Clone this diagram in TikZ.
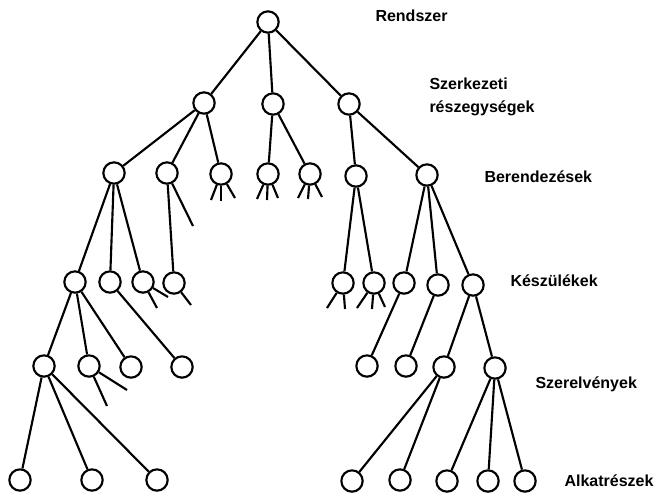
\documentclass[tikz,border=0pt]{standalone}
\usepackage{fontspec}
\setmainfont{Liberation Sans}
\begin{document}
\begin{tikzpicture}[x=0.75pt,y=-0.75pt,line width=1.6pt,
    elem/.style={circle,draw,line width=1.6pt,minimum size=16pt,inner sep=0pt},
    szint/.style={anchor=west,font=\bfseries\fontsize{12}{17.5}\selectfont,align=left}]
        \useasboundingbox (0,0) rectangle (667,496);
        % rendszer es szerkezeti reszegysegek
        \node[elem] (r) at (268,22) {};
        \node[elem] (s1) at (204,103) {};
        \node[elem] (s2) at (273,104) {};
        \node[elem] (s3) at (349,104) {};
        \draw (r) -- (s1); \draw (r) -- (s2); \draw (r) -- (s3);
        % berendezesek
        \node[elem] (b1) at (114,173) {};
        \node[elem] (b2) at (167,173) {};
        \node[elem] (b3) at (221,174) {};
        \node[elem] (b4) at (268,174) {};
        \node[elem] (b5) at (310,174) {};
        \node[elem] (b6) at (356,176) {};
        \node[elem] (b7) at (427,175) {};
        \draw (s1) -- (b1); \draw (s1) -- (b2); \draw (s1) -- (b3);
        \draw (s2) -- (b4); \draw (s2) -- (b5);
        \draw (s3) -- (b6); \draw (s3) -- (b7);
        \draw (b2) -- +(26,53);
        \draw (b3) -- +(-10,26); \draw (b3) -- +(0,27); \draw (b3) -- +(14,24);
        \draw (b4) -- +(-11,25); \draw (b4) -- +(-1,26); \draw (b4) -- +(10,24);
        \draw (b5) -- +(-12,24); \draw (b5) -- +(-2,25); \draw (b5) -- +(12,23);
        % keszulekek
        \node[elem] (k1) at (75,282) {};
        \node[elem] (k2) at (110,282) {};
        \node[elem] (k3) at (143,282) {};
        \node[elem] (k4) at (174,283) {};
        \node[elem] (k5) at (343,283) {};
        \node[elem] (k6) at (374,283) {};
        \node[elem] (k7) at (404,283) {};
        \node[elem] (k8) at (438,285) {};
        \node[elem] (k9) at (473,285) {};
        \draw (b1) -- (k1); \draw (b1) -- (k2); \draw (b1) -- (k3);
        \draw (b2) -- (k4);
        \draw (b6) -- (k5); \draw (b6) -- (k6);
        \draw (b7) -- (k7); \draw (b7) -- (k8); \draw (b7) -- (k9);
        \draw (k3) -- +(25,15); \draw (k3) -- +(14,26);
        \draw (k4) -- +(17,22);
        \draw (k5) -- +(-16,25); \draw (k5) -- +(2,26);
        \draw (k6) -- +(-17,25); \draw (k6) -- +(-2,26); \draw (k6) -- +(11,24);
        % szerelvenyek
        \node[elem] (e1) at (44,366) {};
        \node[elem] (e2) at (89,366) {};
        \node[elem] (e3) at (131,367) {};
        \node[elem] (e4) at (182,367) {};
        \node[elem] (e5) at (367,366) {};
        \node[elem] (e6) at (406,366) {};
        \node[elem] (e7) at (444,367) {};
        \node[elem] (e8) at (495,368) {};
        \draw (k1) -- (e1); \draw (k1) -- (e2); \draw (k1) -- (e3);
        \draw (k2) -- (e4);
        \draw (k7) -- (e5); \draw (k8) -- (e6);
        \draw (k9) -- (e7); \draw (k9) -- (e8);
        \draw (e2) -- +(38,24); \draw (e2) -- +(18,40);
        % alkatreszek
        \node[elem] (a1) at (20,480) {};
        \node[elem] (a2) at (92,480) {};
        \node[elem] (a3) at (157,480) {};
        \node[elem] (a4) at (352,481) {};
        \node[elem] (a5) at (400,480) {};
        \node[elem] (a6) at (447,481) {};
        \node[elem] (a7) at (488,481) {};
        \node[elem] (a8) at (525,481) {};
        \draw (e1) -- (a1); \draw (e1) -- (a2); \draw (e1) -- (a3);
        \draw (e7) -- (a4); \draw (e7) -- (a5);
        \draw (e8) -- (a6); \draw (e8) -- (a7); \draw (e8) -- (a8);
        % szintek nevei
        \node[szint] (t1) at (370,16) {Rendszer};
        \node[szint] (t2) at (424,97) {Szerkezeti\\részegységek};
        \node[szint] (t3) at (479,177) {Berendezések};
        \node[szint] (t4) at (505,281) {Készülékek};
        \node[szint] (t5) at (530,384) {Szerelvények};
        \node[szint] (t6) at (559,481) {Alkatrészek};
    \end{tikzpicture}
\end{document}
